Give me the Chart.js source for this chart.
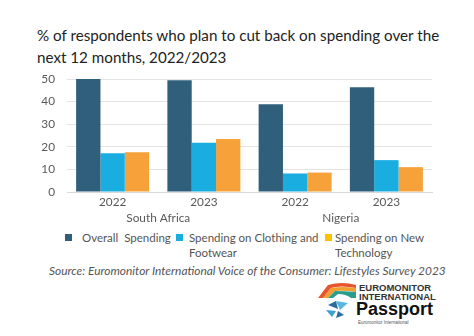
<!DOCTYPE html>
<html>
<head>
<meta charset="utf-8">
<script src="https://cdn.jsdelivr.net/npm/chart.js@4.4.1/dist/chart.umd.min.js"></script>
<style>
    body { margin: 0; background: #fff; font-family: Lato, "Open Sans", sans-serif; }
    #page { position: relative; width: 474px; height: 336px; overflow: hidden; }
    #title { position: absolute; left: 37px; top: 24px; font-size: 15.2px; line-height: 22px; color: #222; white-space: nowrap; }
    #chart-box { position: absolute; left: 0; top: 59px; width: 474px; height: 168px; }
    #legend { position: absolute; top: 230px; left: 0; width: 474px; font-size: 11.5px; color: #555; line-height: 15px; }
    .item { position: absolute; top: 0; white-space: nowrap; }
    .swatch { position: absolute; top: 4px; width: 7px; height: 7px; }
    #source { position: absolute; top: 263px; left: 49px; font-size: 11.9px; font-style: italic; color: #555; white-space: nowrap; }
    #logo { position: absolute; left: 318px; top: 282px; width: 130px; height: 50px; }
    #logo .em { position: absolute; left: 41px; top: 1px; font-size: 9.5px; font-weight: bold; line-height: 9px; color: #333; font-family: "Liberation Sans", sans-serif; }
    #logo .pp { position: absolute; left: 38px; top: 17px; font-size: 18px; font-weight: bold; color: #111; font-family: "Liberation Sans", sans-serif; }
    #logo .sub { position: absolute; left: 40px; top: 38px; font-size: 4.5px; color: #555; font-family: "Liberation Sans", sans-serif; }
</style>
</head>
<body>
<div id="page">
    <div id="title">% of respondents who plan to cut back on spending over the<br>next 12 months, 2022/2023</div>
    <div id="chart-box"><canvas id="barChart"></canvas></div>
    <div id="legend"></div>
    <div id="source">Source: Euromonitor International Voice of the Consumer: Lifestyles Survey 2023</div>
    <div id="logo">
        <svg width="40" height="50" style="position:absolute;left:0;top:0">
            <path d="M0 16 L10 3 Q24 -1 38 3 L38 6 Q22 3 13 6 L5 16 Z" fill="#e8542b"/>
            <path d="M5 16 L13 6 Q24 4 38 6 L38 10 Q26 8 17 9 L10 16 Z" fill="#f0a030"/>
            <path d="M10 16 L17 9 Q27 9 38 10 L38 16 L33 16 Q28 12 20 12 L15 16 Z" fill="#2a9d8f"/>
            <path d="M10 23 L18 19 L20 27 Z" fill="#2a6f9a"/>
            <path d="M18 19 L30 21 L22 28 Z" fill="#5ab8e0"/>
            <path d="M8 28 L18 29 L14 35 Z" fill="#3aa0d0"/>
            <path d="M20 29 L26 33 L18 36 Z" fill="#2a6f9a"/>
        </svg>
        <div class="em">EUROMONITOR<br>INTERNATIONAL</div>
        <div class="pp">Passport</div>
        <div class="sub">Euromonitor International</div>
    </div>
</div>
<script>
const years = ["2022", "2023", "2022", "2023"];
const countries = ["South Africa", "Nigeria"];
const overallSpending = [50.0, 49.5, 38.8, 46.4];
const clothingSpending = [17.1, 21.8, 8.2, 14.1];
const technologySpending = [17.6, 23.4, 8.6, 11.0];
const yTicks = [0, 10, 20, 30, 40, 50];

const seriesNames = ["Overall&nbsp; Spending", "Spending on Clothing and<br>Footwear", "Spending on New<br>Technology"];
const barColors = ["#2f5f7b", "#19ade0", "#f6a13a"];
const legendColors = ["#2f5f7b", "#19ade0", "#ffc000"];
const legendSpots = [[65, 82], [176, 189], [325, 335]];

document.addEventListener("DOMContentLoaded", () => {
    renderLegend();
    renderBarChart();
});

function renderLegend() {
    const box = document.getElementById("legend");
    seriesNames.forEach((name, i) => {
        const sw = document.createElement("div");
        sw.className = "swatch";
        sw.style.left = legendSpots[i][0] + "px";
        sw.style.background = legendColors[i];
        const txt = document.createElement("div");
        txt.className = "item";
        txt.style.left = legendSpots[i][1] + "px";
        txt.innerHTML = name;
        box.appendChild(sw);
        box.appendChild(txt);
    });
}

function renderBarChart() {
    const ctx = document.getElementById("barChart").getContext("2d");
    const font = { family: "Lato, 'Open Sans', sans-serif", size: 11.8 };
    new Chart(ctx, {
        type: "bar",
        data: {
            labels: years,
            datasets: [overallSpending, clothingSpending, technologySpending].map((vals, i) => ({
                label: seriesNames[i],
                data: vals,
                backgroundColor: barColors[i],
                categoryPercentage: 0.8,
                barPercentage: 1.0
            }))
        },
        options: {
            responsive: true,
            maintainAspectRatio: false,
            animation: false,
            layout: { padding: { left: 30, right: 42, top: 20, bottom: 0 } },
            plugins: {
                legend: { display: false },
                tooltip: { enabled: false }
            },
            scales: {
                y: {
                    min: 0,
                    max: 50,
                    afterBuildTicks: (axis) => { axis.ticks = yTicks.map(v => ({ value: v })); },
                    afterFit: (axis) => { axis.width = 37; },
                    grid: { color: "#e3e3e3", drawTicks: false },
                    border: { display: false },
                    ticks: { color: "#595959", font: font, padding: 12 }
                },
                x: {
                    afterFit: (axis) => { axis.height = 17; },
                    grid: { display: false, drawTicks: false },
                    border: { color: "#d9d9d9" },
                    ticks: { color: "#595959", font: font, padding: 3 }
                },
                x2: {
                    type: "category",
                    labels: countries,
                    position: "bottom",
                    afterFit: (axis) => { axis.height = 18; },
                    grid: { display: false, drawTicks: false },
                    border: { display: false },
                    ticks: { color: "#595959", font: font, padding: 2 }
                }
            }
        }
    });
}
</script>
</body>
</html>
